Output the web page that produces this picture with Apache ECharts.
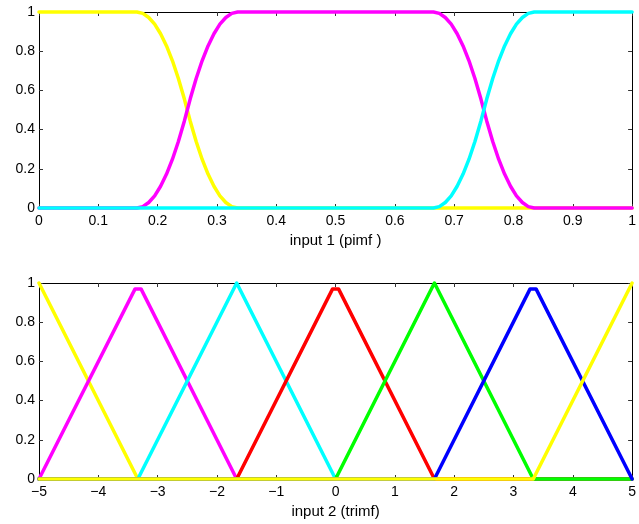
<!DOCTYPE html>
<html>
<head>
<meta charset="utf-8">
<script src="https://cdn.jsdelivr.net/npm/echarts@6/dist/echarts.min.js"></script>
<style>
html,body{margin:0;padding:0;background:#fff;}
#c{width:639px;height:524px;}
</style>
</head>
<body>
<div id="c"></div>
<script>
// ---- Top plot: input 1 (pimf) ----
const pimfYellow = [[0,1],[0.165,1],[0.175,0.993],[0.185,0.972],[0.195,0.938],[0.205,0.889],[0.215,0.827],[0.225,0.751],[0.235,0.661],[0.245,0.557],[0.25,0.5],[0.255,0.443],[0.265,0.339],[0.275,0.249],[0.285,0.173],[0.295,0.111],[0.305,0.062],[0.315,0.028],[0.325,0.007],[0.335,0],[1,0]];
const pimfMagenta = [[0,0],[0.165,0],[0.175,0.007],[0.185,0.028],[0.195,0.062],[0.205,0.111],[0.215,0.173],[0.225,0.249],[0.235,0.339],[0.245,0.443],[0.25,0.5],[0.255,0.557],[0.265,0.661],[0.275,0.751],[0.285,0.827],[0.295,0.889],[0.305,0.938],[0.315,0.972],[0.325,0.993],[0.335,1],
  [0.665,1],[0.675,0.993],[0.685,0.972],[0.695,0.938],[0.705,0.889],[0.715,0.827],[0.725,0.751],[0.735,0.661],[0.745,0.557],[0.75,0.5],[0.755,0.443],[0.765,0.339],[0.775,0.249],[0.785,0.173],[0.795,0.111],[0.805,0.062],[0.815,0.028],[0.825,0.007],[0.835,0],[1,0]];
const pimfCyan = [[0,0],[0.665,0],[0.675,0.007],[0.685,0.028],[0.695,0.062],[0.705,0.111],[0.715,0.173],[0.725,0.249],[0.735,0.339],[0.745,0.443],[0.75,0.5],[0.755,0.557],[0.765,0.661],[0.775,0.751],[0.785,0.827],[0.795,0.889],[0.805,0.938],[0.815,0.972],[0.825,0.993],[0.835,1],[1,1]];
const topXLabel = 'input 1 (pimf )';

// ---- Bottom plot: input 2 (trimf) ----
const triYellow1 = [[-5,1],[-3.333,0],[5,0]];
const triMagenta = [[-5,0],[-3.38,0.97],[-3.28,0.97],[-1.667,0],[5,0]];
const triCyan = [[-5,0],[-3.333,0],[-1.667,1],[0,0],[5,0]];
const triRed = [[-5,0],[-1.667,0],[-0.05,0.97],[0.05,0.97],[1.667,0],[5,0]];
const triGreen = [[-5,0],[0,0],[1.667,1],[3.333,0],[5,0]];
const triBlue = [[-5,0],[1.667,0],[3.28,0.97],[3.38,0.97],[5,0]];
const triYellow2 = [[-5,0],[3.333,0],[5,1]];
const botXLabel = 'input 2 (trimf)';

const FONT = '"Liberation Sans", Arial, sans-serif';
const LW = 3.5;
const fmtTop = v => (Math.abs(v) < 1e-9 ? '0' : (Math.abs(v-1) < 1e-9 ? '1' : v.toFixed(1)));
const fmtBot = v => { const r = Math.round(v); return r < 0 ? '\u2212' + Math.abs(r) : String(r); };
const fmtY = v => (Math.abs(v) < 1e-9 ? '0' : (Math.abs(v-1) < 1e-9 ? '1' : v.toFixed(1)));

function xAx(gi, min, max, interval, fmt, name, top) {
  return {
    type: 'value', gridIndex: gi, min: min, max: max, interval: interval,
    position: top ? 'top' : 'bottom',
    name: top ? '' : name, nameLocation: 'middle', nameGap: 25,
    nameTextStyle: {fontFamily: FONT, fontSize: 15, color: '#000'},
    axisLine: {show: true, onZero: false, lineStyle: {color: '#000', width: 1}},
    axisTick: {show: true, inside: true, length: 4, lineStyle: {color: '#333'}},
    axisLabel: {show: !top, formatter: fmt, fontFamily: FONT, fontSize: 14, color: '#000', margin: 6, showMinLabel: true, showMaxLabel: true},
    splitLine: {show: false}
  };
}
function yAx(gi, right) {
  return {
    type: 'value', gridIndex: gi, min: 0, max: 1, interval: 0.2,
    position: right ? 'right' : 'left',
    axisLine: {show: true, onZero: false, lineStyle: {color: '#000', width: 1}},
    axisTick: {show: true, inside: true, length: 4, lineStyle: {color: '#333'}},
    axisLabel: {show: !right, formatter: fmtY, fontFamily: FONT, fontSize: 14, color: '#000', margin: 4},
    splitLine: {show: false}
  };
}
function ser(data, color, xi, yi) {
  return {
    type: 'line', data: data, xAxisIndex: xi, yAxisIndex: yi, showSymbol: false, symbol: 'none',
    smooth: false,
    lineStyle: {color: color, width: LW, join: 'round', cap: 'round'}, itemStyle: {color: color},
    animation: false, clip: false
  };
}

const chart = echarts.init(document.getElementById('c'), null, {renderer: 'canvas'});
chart.setOption({
  backgroundColor: '#fff',
  animation: false,
  grid: [
    {left: 39, right: 4, top: 12, height: 196, containLabel: false},
    {left: 39, right: 4, top: 283, height: 196, containLabel: false}
  ],
  xAxis: [
    xAx(0, 0, 1, 0.1, fmtTop, topXLabel, false),
    xAx(0, 0, 1, 0.1, fmtTop, '', true),
    xAx(1, -5, 5, 1, fmtBot, botXLabel, false),
    xAx(1, -5, 5, 1, fmtBot, '', true)
  ],
  yAxis: [yAx(0, false), yAx(0, true), yAx(1, false), yAx(1, true)],
  series: [
    ser(pimfYellow, '#ffff00', 0, 0),
    ser(pimfMagenta, '#ff00ff', 0, 0),
    ser(pimfCyan, '#00ffff', 0, 0),
    ser(triYellow1, '#ffff00', 2, 2),
    ser(triMagenta, '#ff00ff', 2, 2),
    ser(triCyan, '#00ffff', 2, 2),
    ser(triRed, '#ff0000', 2, 2),
    ser(triGreen, '#00ff00', 2, 2),
    ser(triBlue, '#0000ff', 2, 2),
    ser(triYellow2, '#ffff00', 2, 2)
  ]
});
</script>
</body>
</html>
